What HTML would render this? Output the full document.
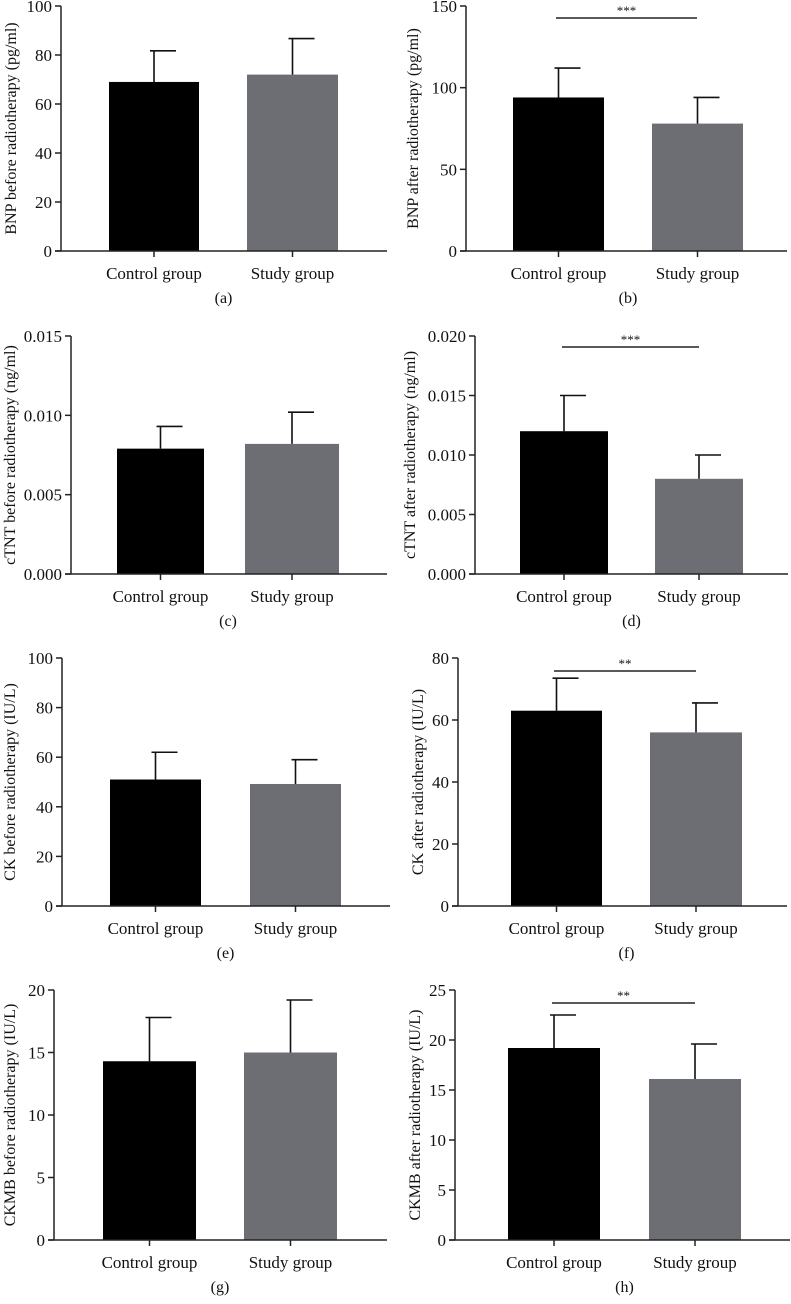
<!DOCTYPE html>
<html><head><meta charset="utf-8">
<style>
html,body{margin:0;padding:0;background:#fff;}
svg{display:block;font-family:"Liberation Serif",serif;}
</style></head>
<body>
<svg id="fig" width="791" height="1304" viewBox="0 0 791 1304" xmlns="http://www.w3.org/2000/svg"></svg>
<script>
// Data arrays
const categories = ["Control group", "Study group"];
const panelLetters = ["(a)","(b)","(c)","(d)","(e)","(f)","(g)","(h)"];
const yTitles = ["BNP before radiotherapy (pg/ml)","BNP after radiotherapy (pg/ml)","cTNT before radiotherapy (ng/ml)","cTNT after radiotherapy (ng/ml)","CK before radiotherapy (IU/L)","CK after radiotherapy (IU/L)","CKMB before radiotherapy (IU/L)","CKMB after radiotherapy (IU/L)"];
const meansA = [69, 72];      const errA = [81.7, 86.7];
const meansB = [94, 78];      const errB = [112, 94];
const meansC = [0.0079, 0.0082]; const errC = [0.0093, 0.0102];
const meansD = [0.012, 0.008];   const errD = [0.015, 0.010];
const meansE = [51, 49.2];    const errE = [62, 59];
const meansF = [63, 56];      const errF = [73.5, 65.5];
const meansG = [14.3, 15];    const errG = [17.8, 19.2];
const meansH = [19.2, 16.1];  const errH = [22.5, 19.6];
const ticksA = [0,20,40,60,80,100];
const ticksB = [0,50,100,150];
const ticksC = [0,0.005,0.010,0.015];
const ticksD = [0,0.005,0.010,0.015,0.020];
const ticksE = [0,20,40,60,80,100];
const ticksF = [0,20,40,60,80];
const ticksG = [0,5,10,15,20];
const ticksH = [0,5,10,15,20,25];
const sigLabels = ["","***","","***","","**","","**"];

// Layout (pixel geometry, not data)
const layout = [
 {ax:61, top:6, y0:251, xs:55, xe:387, b:[[109,199],[247,338]], tx:11, dec:0},
 {ax:466, top:6, y0:251, xs:460, xe:787, b:[[513,604],[652,743]], tx:413, dec:0, sig:[556,697,18]},
 {ax:71, top:336, y0:574, xs:65, xe:387, b:[[117,204],[245,339]], tx:10, dec:3},
 {ax:475, top:336, y0:574, xs:469, xe:788, b:[[520,608],[655,743]], tx:410, dec:3, sig:[562,699,347]},
 {ax:62, top:658, y0:906, xs:56, xe:390, b:[[110,201],[250,341]], tx:10, dec:0},
 {ax:458, top:658, y0:906, xs:452, xe:787, b:[[511,602],[650,742]], tx:418, dec:0, sig:[554,696,671]},
 {ax:54, top:990, y0:1240, xs:48, xe:387, b:[[103,196],[244,337]], tx:10, dec:0},
 {ax:455, top:990, y0:1240, xs:449, xe:790, b:[[508,600],[649,741]], tx:415, dec:0, sig:[552,695,1003]}
];
const allMeans=[meansA,meansB,meansC,meansD,meansE,meansF,meansG,meansH];
const allErr=[errA,errB,errC,errD,errE,errF,errG,errH];
const allTicks=[ticksA,ticksB,ticksC,ticksD,ticksE,ticksF,ticksG,ticksH];
const barColors=["#000000","#6d6e73"];
const NS="http://www.w3.org/2000/svg";
const svg=document.getElementById("fig");
function mk(tag,attrs,parent){const e=document.createElementNS(NS,tag);for(const k in attrs)e.setAttribute(k,attrs[k]);(parent||svg).appendChild(e);return e;}

layout.forEach((L,i)=>{
  const ticks=allTicks[i], means=allMeans[i], errs=allErr[i];
  const ymax=ticks[ticks.length-1];
  const yS=v=>L.y0-(v/ymax)*(L.y0-L.top);
  const g=mk("g",{});
  
  
  means.forEach((m,j)=>{
    const [x1,x2]=L.b[j]; const cx=(x1+x2)/2;
    const r=mk("rect",{x:x1,y:yS(m),width:x2-x1,height:L.y0-yS(m),fill:barColors[j]},g);
    
    
    const ey=yS(errs[j]);
    const el=mk("path",{d:`M${cx},${yS(m)}V${ey}M${cx-4},${ey}H${cx+22}`,stroke:"#111",'stroke-width':1.6,fill:"none"},g);
    
    
    mk("line",{x1:cx,x2:cx,y1:L.y0,y2:L.y0+6,stroke:"#222",'stroke-width':1.5},g);
    const ct=mk("text",{x:cx,y:L.y0+28,'font-size':17,'text-anchor':'middle',fill:"#111"},g);
    ct.textContent=categories[j];
    
    
  });
  const ya=mk("line",{x1:L.ax,x2:L.ax,y1:L.top,y2:L.y0,stroke:"#222",'stroke-width':1.5},g);
  
  
  const xa=mk("line",{x1:L.xs,x2:L.xe,y1:L.y0,y2:L.y0,stroke:"#222",'stroke-width':1.5},g);
  
  
  ticks.forEach(t=>{
    const y=yS(t);
    mk("line",{x1:L.ax-6,x2:L.ax,y1:y,y2:y,stroke:"#222",'stroke-width':1.5},g);
    const tl=mk("text",{x:L.ax-9,y:y+6,'font-size':17,'text-anchor':'end',fill:"#111"},g);
    tl.textContent=t.toFixed(L.dec);
    
    
  });
  const cy=(L.top+L.y0)/2;
  const yt=mk("text",{x:L.tx,y:cy,'font-size':16,'text-anchor':'middle',fill:"#111",transform:`rotate(-90 ${L.tx} ${cy}) translate(0 5)`},g);
  yt.textContent=yTitles[i];
  
  
  const pl=mk("text",{x:(L.b[0][0]+L.b[1][1])/2,y:L.y0+52,'font-size':16,'text-anchor':'middle',fill:"#111"},g);
  pl.textContent=panelLetters[i];
  
  
  if(L.sig){
    const [sx1,sx2,sy]=L.sig;
    const sl=mk("line",{x1:sx1,x2:sx2,y1:sy,y2:sy,stroke:"#222",'stroke-width':1.4},g);
    
    
    const st=mk("text",{x:(sx1+sx2)/2,y:sy-3,'font-size':13,'text-anchor':'middle',fill:"#111"},g);
    st.textContent=sigLabels[i];
    
    
  }
});
</script>
</body></html>
